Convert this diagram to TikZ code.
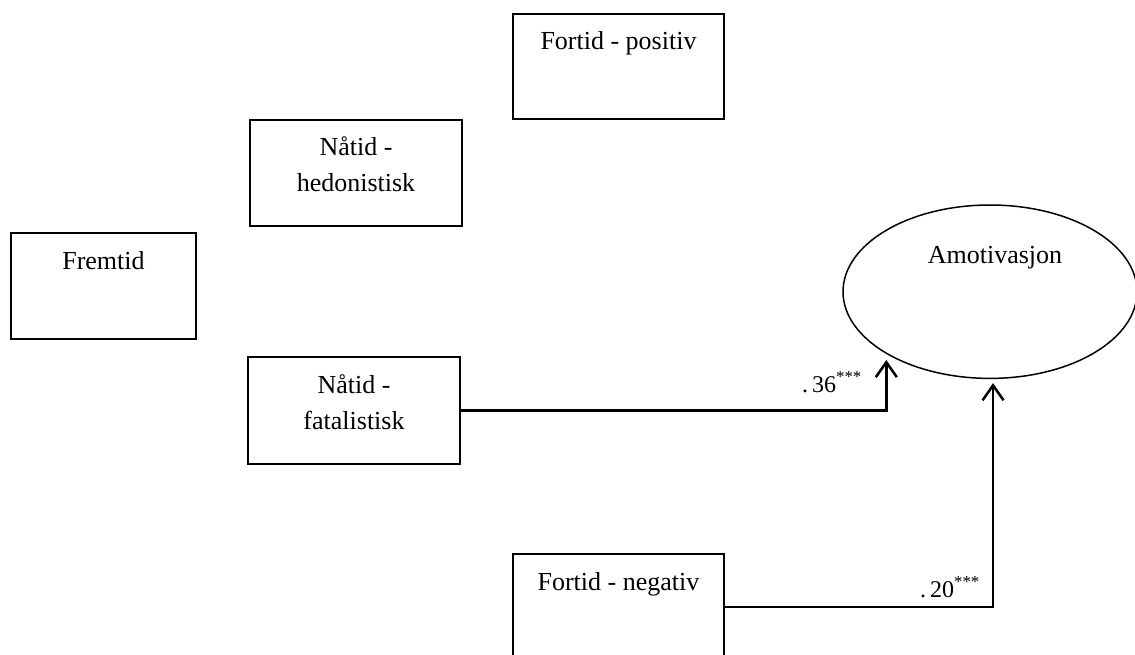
\documentclass[tikz,border=0pt]{standalone}
\usepackage{fontspec}
\setmainfont{Liberation Serif}
\usetikzlibrary{shapes.geometric,arrows.meta}
\newcommand{\bxtext}[3]{\parbox[c][#2][t]{#1}{\centering\rule{0pt}{36pt}#3\par}}
\begin{document}
\begin{tikzpicture}[x=1pt,y=-1pt,
  box/.style={draw, line width=2pt, inner sep=0pt, anchor=north west, font=\fontsize{26}{36}\selectfont},
  conn/.style={line width=2.5pt, -{Straight Barb[length=15pt,width=21pt]}},
  coef/.style={anchor=base east, inner sep=0pt, font=\fontsize{24}{30}\selectfont}]
\useasboundingbox (0,0) rectangle (1135,655);
\node[box] (pos) at (512,13) {\bxtext{211pt}{105pt}{Fortid - positiv}};
\node[box] (hed) at (249,119) {\bxtext{212pt}{106pt}{Nåtid -\\hedonistisk}};
\node[box] (frem) at (10,232) {\bxtext{185pt}{106pt}{Fremtid}};
\node[box] (fat) at (247,356) {\bxtext{212pt}{107pt}{Nåtid -\\fatalistisk}};
\node[box] (neg) at (512,553) {\bxtext{211pt}{106pt}{Fortid - negativ}};
\node[ellipse, draw, line width=1.5pt, minimum width=294pt, minimum height=173.4pt, inner sep=0pt,
  font=\fontsize{26}{36}\selectfont] (amot) at (990,291.7) {\hspace*{10pt}\smash{\raisebox{28.7pt}{Amotivasjon}}};
\draw[conn] (fat.east) -| ([yshift=-6pt]amot.211.5);
\draw[conn] (neg.east) -| ([yshift=-4pt]amot.272);
\node[coef] (c1) at (862,392) {.\,36\textsuperscript{***}};
\node[coef] (c2) at (980,597) {.\,20\textsuperscript{***}};
\end{tikzpicture}
\end{document}
